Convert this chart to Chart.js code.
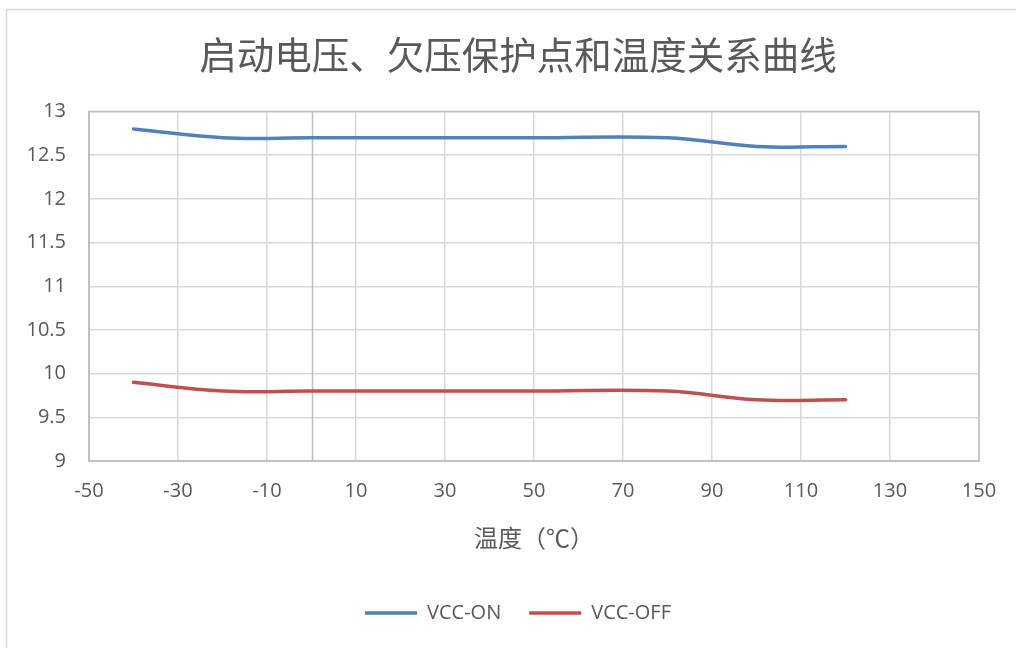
<!DOCTYPE html>
<html>
<head>
<meta charset="utf-8">
<script src="https://cdn.jsdelivr.net/npm/chart.js@4"></script>
<style>
  html, body { margin: 0; padding: 0; background: #ffffff; }
  #wrap { width: 1016px; height: 648px; }
</style>
</head>
<body>
<div id="wrap"><canvas id="grafico" width="1016" height="648"></canvas></div>
<script>
// Datos
const temperaturas = [-40, -20, 0, 25, 50, 80, 100, 120];
const vccOn = [12.8, 12.7, 12.7, 12.7, 12.7, 12.7, 12.6, 12.6];
const vccOff = [9.9, 9.8, 9.8, 9.8, 9.8, 9.8, 9.7, 9.7];
const nombresSeries = ['VCC-ON', 'VCC-OFF'];
const titulo = '启动电压、欠压保护点和温度关系曲线';
const tituloX = '温度（℃）';

const GRIS_TEXTO = '#595959';
const GRIS_REJILLA = '#d9d9d9';
const GRIS_EJE = '#bfbfbf';

function puntos(valores) {
    return temperaturas.map((t, i) => ({ x: t, y: valores[i] }));
}

// Bordes: marco exterior, caja del área de trazado y eje vertical en x = 0
const marcos = {
    id: 'marcos',
    beforeDraw(chart) {
        const ctx = chart.ctx;
        ctx.save();
        ctx.fillStyle = '#ffffff';
        ctx.fillRect(0, 0, chart.width, chart.height);
        ctx.strokeStyle = GRIS_REJILLA;
        ctx.lineWidth = 1.5;
        ctx.strokeRect(6.5, 9.5, chart.width + 20, chart.height + 20);
        ctx.restore();
    },
    beforeDatasetsDraw(chart) {
        const ctx = chart.ctx;
        const a = chart.chartArea;
        const x0 = Math.round(chart.scales.x.getPixelForValue(0)) + 0.5;
        ctx.save();
        ctx.strokeStyle = GRIS_EJE;
        ctx.lineWidth = 1.5;
        ctx.beginPath();
        ctx.moveTo(x0, a.top);
        ctx.lineTo(x0, a.bottom);
        ctx.stroke();
        ctx.strokeRect(a.left, a.top, a.right - a.left, a.bottom - a.top);
        ctx.restore();
    }
};

Chart.defaults.font.family = '"Open Sans", "Noto Sans", sans-serif';
Chart.defaults.color = GRIS_TEXTO;

new Chart(document.getElementById('grafico'), {
    type: 'scatter',
    data: {
        datasets: [{
            label: nombresSeries[0],
            data: puntos(vccOn),
            showLine: true,
            borderColor: '#4f81bd',
            backgroundColor: '#4f81bd',
            borderWidth: 3.5,
            borderCapStyle: 'round',
            pointRadius: 0,
            tension: 0.4
        }, {
            label: nombresSeries[1],
            data: puntos(vccOff),
            showLine: true,
            borderColor: '#c0504d',
            backgroundColor: '#c0504d',
            borderWidth: 3.5,
            borderCapStyle: 'round',
            pointRadius: 0,
            tension: 0.4
        }]
    },
    options: {
        responsive: false,
        animation: false,
        layout: { padding: { left: 20, right: 0, top: 0, bottom: 15 } },
        plugins: {
            tooltip: { enabled: false },
            title: {
                display: true,
                text: titulo,
                color: GRIS_TEXTO,
                font: { family: '"Noto Sans CJK SC"', size: 37.5, weight: 'normal', lineHeight: 1.2 },
                padding: { top: 32.5, bottom: 34 }
            },
            legend: {
                position: 'bottom',
                labels: {
                    usePointStyle: true,
                    pointStyle: 'line',
                    pointStyleWidth: 52,
                    padding: 28,
                    color: GRIS_TEXTO,
                    font: { size: 20 }
                }
            }
        },
        scales: {
            x: {
                type: 'linear',
                min: -50,
                max: 150,
                ticks: { stepSize: 20, padding: 18, font: { size: 20 }, color: GRIS_TEXTO },
                grid: { color: GRIS_REJILLA, lineWidth: 1.5, drawTicks: false },
                border: { color: GRIS_EJE, width: 1.5 },
                title: {
                    display: true,
                    text: tituloX,
                    color: GRIS_TEXTO,
                    font: { family: '"Noto Sans CJK SC"', size: 24, lineHeight: 1.2 },
                    padding: { top: 0, bottom: 23 }
                },
                afterFit(scale) { scale.height = 114; }
            },
            y: {
                type: 'linear',
                min: 9,
                max: 13,
                ticks: {
                    stepSize: 0.5,
                    padding: 23,
                    font: { size: 20 },
                    color: GRIS_TEXTO,
                    callback: (v) => String(v)
                },
                grid: { color: GRIS_REJILLA, lineWidth: 1.5, drawTicks: false },
                border: { color: GRIS_EJE, width: 1.5 },
                afterFit(scale) { scale.width = 69; }
            },
            derecha: {
                type: 'linear',
                position: 'right',
                display: true,
                ticks: { display: false },
                grid: { display: false },
                border: { display: false },
                afterFit(scale) { scale.width = 37; }
            }
        }
    },
    plugins: [marcos]
});
</script>
</body>
</html>
